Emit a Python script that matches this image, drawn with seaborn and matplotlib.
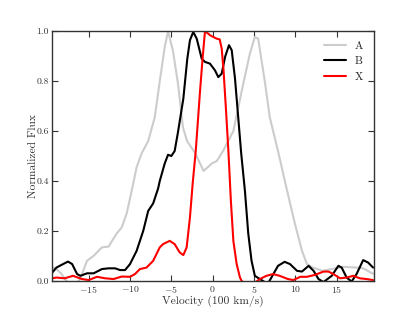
import numpy as np
import pandas as pd
import seaborn as sns
import matplotlib
matplotlib.use("Agg")
import matplotlib.pyplot as plt

# velocity in units of 100 km/s, flux normalized to 1
vel_a = [-19.4, -18.9, -18.3, -17.7, -17.0, -16.4, -16.0, -15.2, -14.4, -13.4,
         -12.6, -11.6, -11.0, -10.4, -9.8, -9.2, -8.6, -7.8, -7.0, -6.4,
         -5.8, -5.4, -4.8, -4.2, -3.6, -3.1, -2.1, -1.1, -0.1, 0.5,
         1.25, 2.5, 3.7, 4.5, 5.1, 5.5, 6.3, 6.9, 7.9, 8.9,
         9.95, 10.8, 11.4, 12.1, 13.3, 14.5, 15.8, 17.4, 18.2, 19.4]
flux_a = [0.055, 0.047, 0.028, 0.0, -0.02, -0.01, 0.01, 0.08, 0.10, 0.134,
          0.137, 0.19, 0.214, 0.27, 0.36, 0.455, 0.51, 0.56, 0.656, 0.80,
          0.937, 1.0, 0.92, 0.79, 0.615, 0.56, 0.51, 0.44, 0.47, 0.48,
          0.52, 0.60, 0.79, 0.91, 0.977, 0.97, 0.80, 0.656, 0.52, 0.375,
          0.228, 0.12, 0.067, 0.053, 0.04, 0.048, 0.056, 0.053, 0.05, 0.028]

vel_b = [-19.4, -18.9, -18.1, -17.5, -17.0, -16.4, -16.0, -15.2, -14.4, -13.4,
         -12.6, -11.8, -11.2, -10.6, -10.0, -9.2, -8.4, -7.8, -7.2, -6.6,
         -6.4, -5.8, -5.4, -5.0, -4.6, -4.2, -3.55, -3.07, -2.75, -2.35,
         -1.93, -1.33, -0.93, -0.33, 0.28, 0.68, 1.09, 1.5, 1.97, 2.3,
         2.7, 3.1, 3.45, 3.9, 4.3, 4.7, 5.1, 5.7, 6.3, 6.7,
         7.1, 7.9, 8.7, 9.35, 10.2, 10.8, 11.6, 12.2, 12.8, 13.4,
         14.4, 15.2, 15.6, 16.2, 16.8, 17.4, 18.2, 18.8, 19.4]
flux_b = [0.033, 0.053, 0.067, 0.077, 0.067, 0.027, 0.02, 0.03, 0.03, 0.047,
          0.05, 0.05, 0.043, 0.043, 0.067, 0.12, 0.20, 0.28, 0.31, 0.37,
          0.40, 0.47, 0.505, 0.50, 0.52, 0.595, 0.73, 0.89, 0.964, 0.997,
          0.97, 0.89, 0.877, 0.87, 0.843, 0.816, 0.83, 0.897, 0.944, 0.924,
          0.81, 0.65, 0.51, 0.36, 0.19, 0.08, 0.02, 0.007, -0.005, -0.01,
          0.013, 0.06, 0.076, 0.067, 0.04, 0.037, 0.06, 0.04, 0.007, -0.005,
          0.02, 0.06, 0.053, 0.013, -0.003, 0.027, 0.083, 0.073, 0.053]

vel_x = [-19.4, -18.9, -17.9, -16.9, -15.8, -15.0, -14.0, -13.0, -12.0, -11.0,
         -10.0, -9.4, -8.8, -8.0, -7.2, -6.8, -6.4, -6.0, -5.2, -4.6,
         -4.0, -3.55, -3.15, -2.75, -2.42, -2.05, -1.54, -1.2, -0.93, -0.53,
         -0.33, 0.07, 0.5, 0.85, 1.09, 1.3, 1.6, 1.9, 2.2, 2.5,
         2.9, 3.3, 3.5, 4.0, 5.0, 5.7, 6.5, 7.3, 8.1, 9.1,
         9.75, 10.6, 11.4, 12.4, 13.4, 14.0, 14.6, 15.4, 16.2, 17.0,
         17.8, 18.6, 19.4]
flux_x = [0.01, 0.013, 0.01, 0.02, 0.007, 0.003, 0.016, 0.01, 0.007, 0.017,
          0.016, 0.027, 0.047, 0.053, 0.08, 0.107, 0.134, 0.147, 0.16, 0.147,
          0.114, 0.103, 0.134, 0.254, 0.39, 0.52, 0.756, 0.90, 1.0, 0.99,
          0.984, 0.977, 0.97, 0.967, 0.93, 0.85, 0.69, 0.52, 0.32, 0.16,
          0.067, 0.013, 0.0, -0.015, -0.01, 0.007, 0.02, 0.027, 0.02, 0.007,
          0.003, 0.016, 0.016, 0.024, 0.037, 0.037, 0.027, 0.01, 0.013, 0.02,
          0.01, 0.007, 0.003]

sns.set_style("ticks")
plt.rcParams["font.family"] = "serif"
plt.rcParams["font.serif"] = ["cmr10", "DejaVu Serif"]
plt.rcParams["mathtext.fontset"] = "cm"
plt.rcParams["axes.formatter.use_mathtext"] = True
plt.rcParams["axes.unicode_minus"] = True

fig, ax = plt.subplots(figsize=(4.15, 3.12), dpi=100)
fig.subplots_adjust(left=0.125, right=0.9, bottom=0.1, top=0.9)

sns.lineplot(x=vel_a, y=flux_a, color="#cccccc", lw=1.5, label="A", ax=ax)
sns.lineplot(x=vel_b, y=flux_b, color="black", lw=1.5, label="B", ax=ax)
sns.lineplot(x=vel_x, y=flux_x, color="red", lw=1.5, label="X", ax=ax)

ax.set_xlim(-19.45, 19.45)
ax.set_ylim(0, 1)
ax.set_xticks([-15, -10, -5, 0, 5, 10, 15])
ax.set_yticks([0.0, 0.2, 0.4, 0.6, 0.8, 1.0])
ax.set_yticklabels(["0.0", "0.2", "0.4", "0.6", "0.8", "1.0"])
ax.tick_params(direction="in", top=True, right=True, length=4, width=0.8,
               labelsize=7, pad=2, colors="#333333", labelcolor="#333333")
for s in ax.spines.values():
    s.set_color("#333333")
    s.set_linewidth(1.0)

ax.set_xlabel("Velocity (100 km/s)", fontsize=8.3, color="#333333", labelpad=1)
ax.set_ylabel("Normalized Flux", fontsize=8.3, color="#333333", labelpad=-1)
ax.legend(loc="upper right", frameon=False, fontsize=8, handlelength=2.0)

fig.savefig("out.png", dpi=100)
